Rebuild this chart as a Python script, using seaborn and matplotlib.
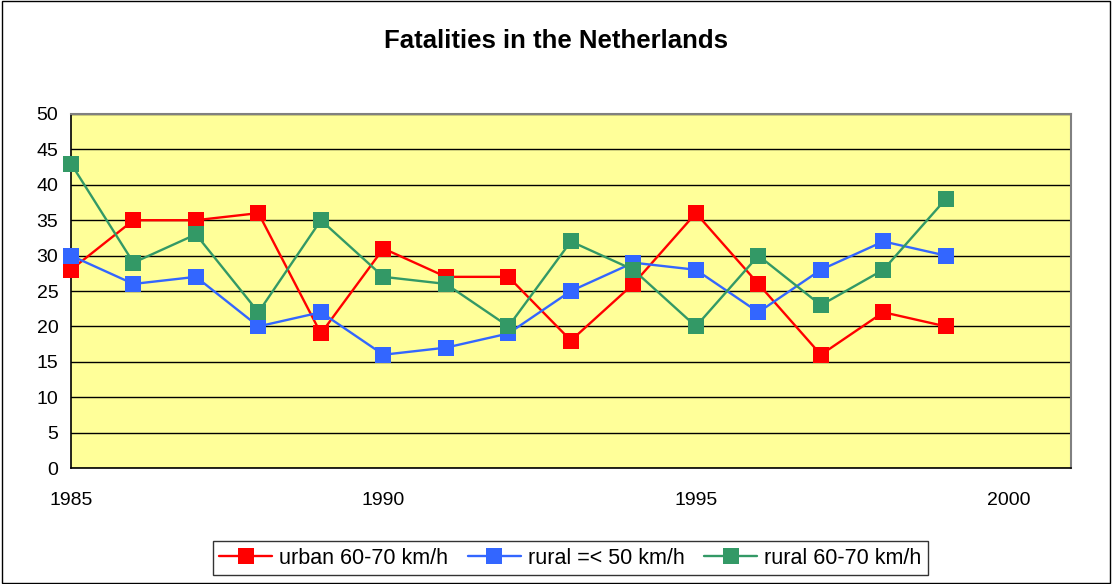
import pandas as pd
import matplotlib.pyplot as plt
import seaborn as sns
from matplotlib.patches import Rectangle

years = list(range(1985, 2000))
urban_60_70 = [28, 35, 35, 36, 19, 31, 27, 27, 18, 26, 36, 26, 16, 22, 20]
rural_50 = [30, 26, 27, 20, 22, 16, 17, 19, 25, 29, 28, 22, 28, 32, 30]
rural_60_70 = [43, 29, 33, 22, 35, 27, 26, 20, 32, 28, 20, 30, 23, 28, 38]

series_names = ['urban 60-70 km/h', 'rural =< 50 km/h', 'rural 60-70 km/h']
colors = ['#FF0000', '#3366FF', '#339966']

df = pd.DataFrame({
    'year': years * 3,
    'fatalities': urban_60_70 + rural_50 + rural_60_70,
    'series': [series_names[0]] * 15 + [series_names[1]] * 15 + [series_names[2]] * 15,
})

sns.set_style('white')
plt.rcParams['font.family'] = ['Liberation Sans', 'DejaVu Sans']
plt.rcParams['text.color'] = 'black'
plt.rcParams['xtick.color'] = 'black'
plt.rcParams['ytick.color'] = 'black'

fig = plt.figure(figsize=(11.12, 5.84), dpi=100)
ax = fig.add_axes([0.0638, 0.1986, 0.8992, 0.6062])
ax.set_facecolor('#FFFF99')

sns.lineplot(data=df, x='year', y='fatalities', hue='series', hue_order=series_names,
             palette=colors, style='series', markers=['s', 's', 's'], dashes=False,
             markersize=11, markeredgewidth=0, linewidth=1.7, ax=ax, legend=False,
             zorder=3, clip_on=False)

ax.set_xlim(1985, 2001)
ax.set_ylim(0, 50)
ax.set_yticks(range(0, 51, 5))
ax.set_xticks(range(1985, 2002))
ax.set_xticklabels([str(y) if y % 5 == 0 else '' for y in range(1985, 2002)])
ax.grid(axis='y', color='black', linewidth=1, zorder=1)
ax.set_axisbelow(True)
ax.set_xlabel('')
ax.set_ylabel('')
ax.tick_params(axis='both', labelsize=14, length=5, width=1, color='black', direction='out')
ax.tick_params(axis='x', pad=12)
ax.tick_params(axis='y', pad=4)

for side in ['left', 'bottom']:
    ax.spines[side].set_color('black')
    ax.spines[side].set_linewidth(1.2)
for side in ['top', 'right']:
    ax.spines[side].set_color('#808080')
    ax.spines[side].set_linewidth(1.5)

fig.suptitle('Fatalities in the Netherlands', y=0.95, fontsize=18.5, fontweight='bold',
             color='black')

handles = [plt.Line2D([], [], color=c, marker='s', markersize=11, markeredgewidth=0, linewidth=1.7)
           for c in colors]
leg = fig.legend(handles, series_names, loc='center', bbox_to_anchor=(0.513, 0.0445), ncol=3,
                 fontsize=15.5, frameon=True, fancybox=False, edgecolor='black',
                 handlelength=2.45, handletextpad=0.35, columnspacing=0.9, borderpad=0.3)
leg.get_frame().set_linewidth(1)

fig.patches.append(Rectangle((0.002, 0.002), 0.996, 0.996, transform=fig.transFigure,
                             fill=False, edgecolor='black', linewidth=1))

fig.savefig('out.png', dpi=100)
